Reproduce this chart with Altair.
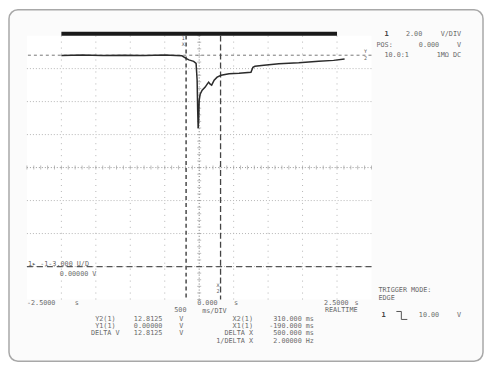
import altair as alt
import pandas as pd

# ---------------- data ----------------
trace_t = [-2.00, -1.70, -1.40, -1.10, -0.80, -0.50, -0.25, -0.19, -0.15, -0.08, -0.045,
           -0.030, -0.022, -0.015, -0.008, 0.000, 0.014, 0.043, 0.087, 0.116, 0.137,
           0.159, 0.181, 0.217, 0.260, 0.318, 0.434, 0.578, 0.751, 0.780, 0.809,
           0.939, 1.156, 1.445, 1.734, 1.951, 2.110]
trace_v = [12.80, 12.82, 12.79, 12.81, 12.80, 12.82, 12.78, 12.62, 12.53, 12.44, 12.32,
           11.30, 9.48, 8.39, 8.88, 10.08, 10.45, 10.69, 10.88, 11.06, 11.18,
           11.06, 11.00, 11.30, 11.48, 11.60, 11.69, 11.72, 11.78, 12.08, 12.14,
           12.20, 12.29, 12.35, 12.44, 12.50, 12.59]

x_min, x_max = -2.5, 2.5          # 500 ms/div, 10 divisions
y_min, y_max = -2.0, 14.0         # 2 V/div, 8 divisions
grid_t = [-2.0, -1.5, -1.0, -0.5, 0.5, 1.0, 1.5, 2.0]
grid_v = [0.0, 2.0, 4.0, 8.0, 10.0, 12.0]
center_t = [0.0]
center_v = [6.0]
minor_t = [round(-2.5 + 0.1 * i, 2) for i in range(51)]
minor_v = [round(-2.0 + 0.4 * i, 2) for i in range(41)]

cursor_x = [-0.19, 0.31]          # X1, X2
cursor_y = [0.0, 12.8125]         # Y1, Y2
record_start, record_end = -2.0, 2.0

# text on the screen
labels_left = ["POS:", "10.0:1", "-2.5000", "0.000", "500", "ms/DIV", "ms", "ms", "ms", "Hz",
               "TRIGGER MODE:", "EDGE", "1\u25b8 -1-3.000 U/D", "0.00000  V"]
labels_right = ["2.00", "0.000", "V", "1M\u03a9 DC", "V/DIV", "2.5000", "REALTIME",
                "Y2(1)", "Y1(1)", "DELTA V", "12.8125", "0.00000", "12.8125",
                "X2(1)", "X1(1)", "DELTA X", "1/DELTA X",
                "310.000", "-190.000", "500.000", "2.00000", "10.00"]
labels_center = ["s", "s", "s", "V", "V", "V", "V"]
labels_bold = ["1", "1"]
labels_small = ["1", "X", "X", "2", "Y", "2"]

# page positions (pixels) for the screen text -> converted to plot-area coordinates
OX, OY = 27, 35
R1, R2, R3, R4 = 319.5, 326.8, 334.1, 341.4
pos_left = [(378, 44), (386, 54), (27, 303.5), (198, 303.5), (175, 310.5), (203, 311.5),
            (307, R1), (307, R2), (307, R3), (307, R4),
            (380, 290.5), (380, 298), (28, 264.5), (60, 274)]
pos_right = [(424, 33), (441, 44), (463, 44), (463, 54), (463, 33), (350, 303.5), (359, 311),
             (116, R1), (116, R2), (120, R3), (163, R1), (163, R2), (163, R3),
             (254, R1), (254, R2), (254, R3), (254, R4),
             (303, R1), (303, R2), (303, R3), (303, R4), (441, 316)]
pos_center = [(77, 303.5), (237, 303.5), (358, 303.5), (182, R1), (182, R2), (182, R3), (461, 316)]
pos_bold = [(386, 33), (383, 316)]
pos_small = [(184, 37.5), (184, 43.5), (219, 285.5), (219, 291.5), (367, 50.5), (367, 57.5)]


def text_df(labels, pos):
    return pd.DataFrame({"label": labels,
                         "px": [p[0] - OX for p in pos],
                         "py": [p[1] - OY for p in pos]})


FONT = "DejaVu Sans Mono"
TXT = "#6a6a6a"

xs = alt.Scale(domain=[x_min, x_max], nice=False, zero=False)
ys = alt.Scale(domain=[y_min, y_max], nice=False, zero=False)

# frame around the whole screen
frame = alt.Chart(pd.DataFrame({"a": [0]})).mark_rect(
    fill="#fbfbfb", stroke="#a8a8a8", strokeWidth=1.5, cornerRadius=9
).encode(x=alt.value(-18), x2=alt.value(458), y=alt.value(-26), y2=alt.value(327))

plot_bg = alt.Chart(pd.DataFrame({"a": [0]})).mark_rect(fill="white").encode(
    x=alt.value(0), x2=alt.value(346), y=alt.value(0), y2=alt.value(265))

hgrid = alt.Chart(pd.DataFrame({"v": grid_v})).mark_rule(
    color="#b5b5b5", strokeWidth=1, strokeDash=[1, 2]
).encode(y=alt.Y("v:Q", scale=ys, axis=None))

vgrid = alt.Chart(pd.DataFrame({"t": grid_t})).mark_rule(
    color="#b5b5b5", strokeWidth=1, strokeDash=[1, 5]
).encode(x=alt.X("t:Q", scale=xs, axis=None))

hcenter = alt.Chart(pd.DataFrame({"v": center_v})).mark_rule(
    color="#999999", strokeWidth=1, strokeDash=[1, 2]
).encode(y=alt.Y("v:Q", scale=ys, axis=None))

vcenter = alt.Chart(pd.DataFrame({"t": center_t})).mark_rule(
    color="#777777", strokeWidth=1, strokeDash=[1, 2]
).encode(x=alt.X("t:Q", scale=xs, axis=None))

hticks = alt.Chart(pd.DataFrame({"t": minor_t, "v": [6.0] * len(minor_t)})).mark_tick(
    color="#a0a0a0", thickness=1, size=4, orient="vertical"
).encode(x=alt.X("t:Q", scale=xs, axis=None), y=alt.Y("v:Q", scale=ys, axis=None))

vticks = alt.Chart(pd.DataFrame({"t": [0.0] * len(minor_v), "v": minor_v})).mark_tick(
    color="#a0a0a0", thickness=1, size=4, orient="horizontal"
).encode(x=alt.X("t:Q", scale=xs, axis=None), y=alt.Y("v:Q", scale=ys, axis=None))

x1_cursor = alt.Chart(pd.DataFrame({"t": [cursor_x[0]]})).mark_rule(
    color="#555555", strokeWidth=1.6, strokeDash=[4, 3]
).encode(x=alt.X("t:Q", scale=xs, axis=None))

x2_cursor = alt.Chart(pd.DataFrame({"t": [cursor_x[1]]})).mark_rule(
    color="#444444", strokeWidth=1.3, strokeDash=[6, 3]
).encode(x=alt.X("t:Q", scale=xs, axis=None))

y1_cursor = alt.Chart(pd.DataFrame({"v": [cursor_y[0]]})).mark_rule(
    color="#555555", strokeWidth=1.3, strokeDash=[6, 4]
).encode(y=alt.Y("v:Q", scale=ys, axis=None))

y2_cursor = alt.Chart(pd.DataFrame({"v": [cursor_y[1]]})).mark_rule(
    color="#777777", strokeWidth=1, strokeDash=[3, 3]
).encode(y=alt.Y("v:Q", scale=ys, axis=None))

record_bar = alt.Chart(pd.DataFrame({"t": [record_start], "t2": [record_end]})).mark_rule(
    color="#1a1a1a", strokeWidth=4
).encode(x=alt.X("t:Q", scale=xs, axis=None), x2="t2:Q", y=alt.value(-2))

trace = alt.Chart(pd.DataFrame({"t": trace_t, "v": trace_v})).mark_line(
    color="#2b2b2b", strokeWidth=1.5, interpolate="linear"
).encode(x=alt.X("t:Q", scale=xs, axis=None), y=alt.Y("v:Q", scale=ys, axis=None))


def text_layer(labels, pos, align, size=6.8, weight="normal", color=TXT):
    return alt.Chart(text_df(labels, pos)).mark_text(
        align=align, baseline="middle", font=FONT, fontSize=size,
        fontWeight=weight, color=color
    ).encode(x=alt.X("px:Q", scale=None), y=alt.Y("py:Q", scale=None), text="label:N")


t_left = text_layer(labels_left, pos_left, "left")
t_right = text_layer(labels_right, pos_right, "right")
t_center = text_layer(labels_center, pos_center, "center")
t_bold = text_layer(labels_bold, pos_bold, "left", size=7, weight="bold", color="#444444")
t_small = text_layer(labels_small, pos_small, "center", size=5, color="#555555")

# falling-edge trigger symbol
edge = alt.Chart(pd.DataFrame({"a": [0]}))
edge_top = edge.mark_rule(color="#555555", strokeWidth=1).encode(
    x=alt.value(398 - OX), x2=alt.value(403 - OX), y=alt.value(312 - OY))
edge_mid = edge.mark_rule(color="#555555", strokeWidth=1).encode(
    x=alt.value(403 - OX), y=alt.value(312 - OY), y2=alt.value(320 - OY))
edge_bot = edge.mark_rule(color="#555555", strokeWidth=1).encode(
    x=alt.value(403 - OX), x2=alt.value(409 - OX), y=alt.value(320 - OY))

chart = alt.layer(
    frame, plot_bg, hgrid, vgrid, hcenter, vcenter, hticks, vticks,
    y1_cursor, y2_cursor, x1_cursor, x2_cursor, record_bar, trace,
    t_left, t_right, t_center, t_bold, t_small, edge_top, edge_mid, edge_bot
).resolve_scale(x="independent", y="independent").properties(
    width=346, height=265,
    padding={"left": 19, "top": 27, "right": 113, "bottom": 64},
    autosize=alt.AutoSizeParams(type="none"),
    background="white"
).configure_view(stroke="#6a6a6a", strokeWidth=1)

chart.save("out.html", embed_options={"renderer": "svg", "actions": False})
